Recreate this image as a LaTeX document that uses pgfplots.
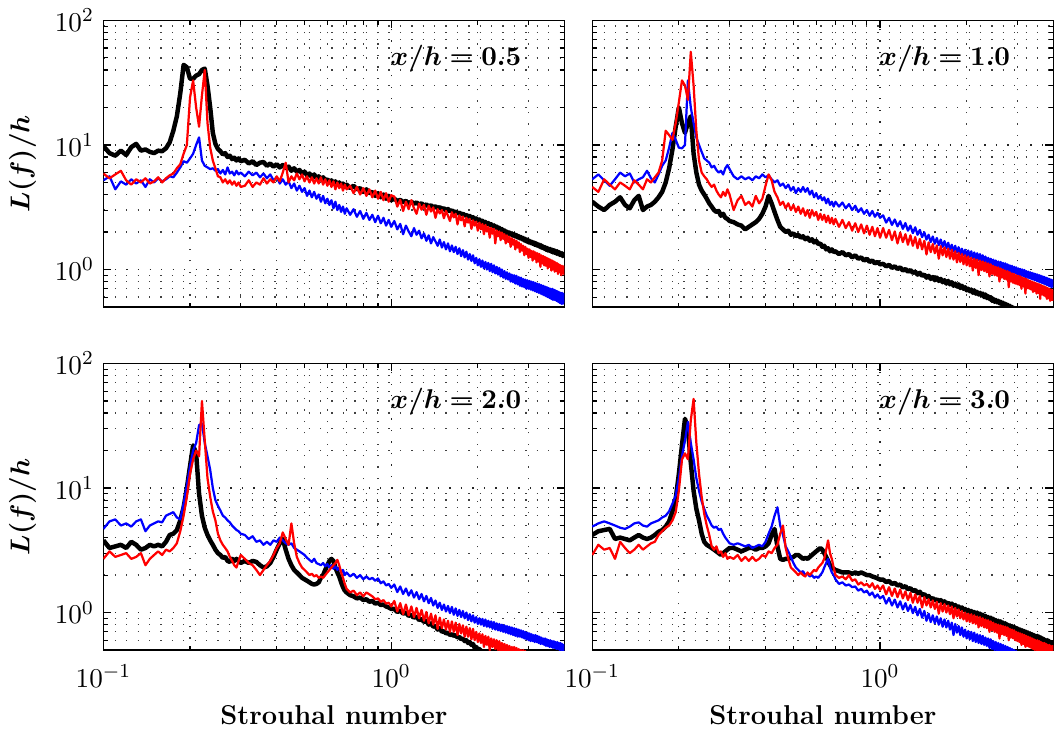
\documentclass[border=0pt]{standalone}
\usepackage{bm}
\usepackage{pgfplots}
\usepackage{pgfplotstable}
\pgfplotsset{compat=1.18}
\usepgfplotslibrary{groupplots}

\pgfplotstableread{
x k r b
0.100 9.8 5.9 5.2
0.105 8.6 5.4 5.6
0.110 8.2 5.8 4.4
0.115 9.0 6.2 5.1
0.120 8.3 5.2 4.8
0.125 9.6 4.8 5.3
0.130 10.2 5.3 4.9
0.135 9.0 5.0 5.2
0.140 9.2 5.4 4.6
0.145 8.8 4.9 5.3
0.150 8.6 5.1 5.0
0.155 9.0 5.5 5.4
0.160 8.9 5.0 5.1
0.165 9.4 5.4 5.3
0.170 10.5 5.7 5.6
0.175 13 5.9 5.5
0.180 17 6.5 6.0
0.185 26 7.0 6.6
0.190 44 8.5 7.4
0.195 42 10 7.2
0.200 34 24 7.8
0.205 34 33 8.5
0.210 36 20 10.0
0.215 37 14 11.5
0.220 40 25 7.5
0.225 41 40 6.8
0.230 30 15 6.6
0.235 20 9.5 6.4
0.240 12.5 7.5 6.5
0.245 10.2 6.5 6.2
0.250 9.3 5.6 6.4
0.255 8.9 5.5 5.9
0.260 8.4 5.0 6.3
0.265 8.6 5.3 5.8
0.270 8.0 4.9 6.6
0.275 8.2 5.2 5.9
0.280 7.7 4.8 6.1
0.285 7.9 5.1 5.7
0.290 7.5 4.7 6.2
0.295 7.8 5.0 5.8
0.300 7.4 4.6 6.0
0.31 7.6 4.7 5.6
0.32 7.1 5.2 6.1
0.33 7.4 4.6 5.7
0.34 6.9 5.0 6.0
0.35 7.2 4.8 5.5
0.36 7.3 5.4 5.9
0.37 6.8 4.9 5.4
0.38 7.1 5.3 5.8
0.39 6.7 5.0 5.2
0.40 7.0 5.6 5.5
0.41 6.6 5.1 4.9
0.42 6.9 6.0 5.3
0.43 6.5 7.2 4.8
0.44 6.7 5.0 5.1
0.45 6.2 5.6 4.5
0.46 6.5 5.2 4.9
0.47 6.1 5.9 4.3
0.48 6.3 5.3 4.7
0.49 5.9 5.8 4.2
0.50 6.1 5.1 4.5
0.51 5.7 5.6 3.9
0.52 5.9 5.0 4.3
0.53 5.5 5.5 3.8
0.54 5.8 4.9 4.2
0.55 5.4 5.4 3.7
0.56 5.6 4.9 4.0
0.57 5.3 5.5 3.5
0.58 5.5 4.8 3.9
0.59 5.2 5.3 3.4
0.60 5.3 4.7 3.7
0.61 5.0 5.2 3.3
0.62 5.2 4.6 3.6
0.63 4.9 5.1 3.1
0.64 5.1 4.4 3.5
0.65 4.8 5.0 3.0
0.66 5.0 4.5 3.3
0.67 4.7 4.9 2.9
0.68 4.9 4.3 3.2
0.69 4.6 4.8 2.8
0.70 4.8 4.4 3.1
0.72 4.5 4.7 2.75
0.74 4.7 4.1 3.05
0.76 4.4 4.6 2.65
0.78 4.5 4.0 2.95
0.80 4.2 4.5 2.55
0.82 4.4 3.9 2.85
0.84 4.1 4.4 2.5
0.86 4.2 3.8 2.75
0.88 3.9 4.3 2.4
0.90 4.1 3.7 2.7
0.92 3.8 4.2 2.35
0.94 4.0 3.6 2.6
0.96 3.7 4.1 2.25
0.98 3.9 3.5 2.5
1.000 3.6 3.95 2.2
1.025 3.70 3.85 2.45
1.050 3.55 3.20 2.10
1.075 3.62 3.62 2.32
1.100 3.48 2.95 1.92
1.125 3.55 3.50 2.25
1.150 3.40 3.05 2.02
1.175 3.50 3.60 1.85
1.200 3.38 3.10 2.15
1.225 3.45 2.80 1.90
1.250 3.32 3.38 2.05
1.275 3.40 3.02 1.78
1.300 3.25 3.30 1.95
1.325 3.33 2.75 1.70
1.350 3.20 3.25 1.88
1.375 3.28 2.92 1.62
1.400 3.15 3.15 1.82
1.425 3.22 2.60 1.68
1.450 3.10 3.05 1.55
1.475 3.17 2.82 1.74
1.500 3.04 3.00 1.50
1.525 3.11 2.58 1.66
1.550 2.98 2.95 1.45
1.575 3.06 2.70 1.62
1.600 2.93 2.45 1.40
1.625 2.99 2.88 1.56
1.650 2.87 2.62 1.38
1.675 2.93 2.80 1.52
1.700 2.81 2.30 1.33
1.725 2.87 2.72 1.48
1.750 2.76 2.48 1.28
1.775 2.81 2.66 1.43
1.800 2.70 2.22 1.25
1.825 2.75 2.60 1.39
1.850 2.64 2.38 1.20
1.875 2.69 2.55 1.33
1.900 2.58 2.12 1.17
1.925 2.63 2.48 1.30
1.950 2.52 2.25 1.12
1.975 2.57 2.42 1.24
2.000 2.46 2.05 1.08
2.025 2.52 2.38 1.21
2.050 2.41 2.10 1.05
2.075 2.46 2.32 1.18
2.100 2.36 1.92 1.02
2.125 2.41 2.28 1.15
2.150 2.31 2.02 1.00
2.175 2.36 2.20 1.13
2.200 2.27 1.80 0.97
2.225 2.31 2.16 1.11
2.250 2.22 1.94 0.95
2.275 2.26 2.12 1.08
2.300 2.17 1.62 0.93
2.325 2.21 2.06 1.05
2.350 2.12 1.85 0.91
2.375 2.16 2.02 1.03
2.400 2.07 1.72 0.88
2.425 2.11 1.98 1.00
2.450 2.02 1.76 0.86
2.475 2.06 1.92 0.97
2.500 1.97 1.62 0.84
2.525 2.01 1.88 0.95
2.550 1.94 1.66 0.83
2.575 1.98 1.83 0.93
2.600 1.91 1.52 0.80
2.625 1.95 1.78 0.91
2.650 1.87 1.58 0.79
2.675 1.92 1.74 0.90
2.700 1.84 1.45 0.77
2.725 1.89 1.70 0.89
2.750 1.81 1.50 0.76
2.775 1.85 1.65 0.87
2.800 1.78 1.38 0.74
2.825 1.82 1.60 0.86
2.850 1.75 1.42 0.73
2.875 1.79 1.55 0.84
2.900 1.71 1.30 0.72
2.925 1.76 1.52 0.83
2.950 1.68 1.33 0.70
2.975 1.73 1.47 0.82
3.000 1.65 1.24 0.70
3.025 1.70 1.45 0.81
3.050 1.63 1.26 0.69
3.075 1.67 1.41 0.80
3.100 1.61 1.18 0.68
3.125 1.65 1.40 0.79
3.150 1.58 1.22 0.67
3.175 1.63 1.37 0.78
3.200 1.56 1.14 0.66
3.225 1.60 1.35 0.77
3.250 1.54 1.16 0.65
3.275 1.58 1.33 0.76
3.300 1.51 1.05 0.64
3.325 1.56 1.30 0.75
3.350 1.49 1.12 0.63
3.375 1.53 1.28 0.74
3.400 1.47 1.08 0.62
3.425 1.51 1.26 0.73
3.450 1.44 1.07 0.61
3.475 1.49 1.24 0.72
3.500 1.42 1.02 0.60
3.525 1.47 1.22 0.71
3.550 1.41 1.05 0.59
3.575 1.46 1.20 0.70
3.600 1.39 0.98 0.58
3.625 1.44 1.18 0.70
3.650 1.37 1.00 0.57
3.675 1.43 1.16 0.69
3.700 1.36 0.96 0.57
3.725 1.41 1.14 0.68
3.750 1.34 0.97 0.56
3.775 1.40 1.12 0.67
3.800 1.33 0.92 0.55
3.825 1.38 1.10 0.66
3.850 1.31 0.95 0.54
3.875 1.36 1.08 0.65
3.900 1.30 0.90 0.53
3.925 1.35 1.07 0.65
3.950 1.28 0.93 0.53
3.975 1.33 1.06 0.64
4.000 1.28 0.90 0.54
}\tabA

\pgfplotstableread{
x k r b
0.100 3.5 4.6 5.3
0.105 3.2 4.2 5.8
0.110 3.0 5.3 5.2
0.115 3.3 4.8 4.7
0.120 3.5 4.4 5.3
0.125 3.8 5.0 6.0
0.130 3.3 4.7 5.6
0.135 3.1 4.4 5.9
0.140 3.6 5.2 5.0
0.145 3.9 4.8 5.3
0.150 3.0 4.4 5.5
0.155 3.2 5.3 6.2
0.160 3.3 5.0 5.4
0.165 3.5 5.5 5.0
0.170 3.8 6.0 5.8
0.175 4.2 7.5 6.8
0.180 5.0 13 7.5
0.185 6.5 12 9.5
0.190 9.2 11 12.5
0.195 14 15 11
0.200 20 22 9.5
0.205 15 33 9.4
0.210 12.5 30 10
0.215 15 23 33
0.220 17 56 20
0.225 8.5 30 15
0.230 6.0 13 11.5
0.235 4.8 7.5 10
0.240 4.3 6.0 8.8
0.245 4.0 5.6 7.8
0.250 3.7 5.3 7.5
0.255 3.4 4.9 7.2
0.260 3.2 4.6 6.6
0.265 3.0 4.8 6.8
0.270 2.9 4.3 6.3
0.275 2.95 4.0 6.0
0.280 2.7 3.8 6.2
0.285 2.8 4.2 5.8
0.290 2.6 3.9 6.5
0.295 2.55 4.4 6.9
0.300 2.45 4.0 6.4
0.31 2.4 3.0 5.6
0.32 2.3 3.6 5.3
0.33 2.25 3.9 5.6
0.34 2.1 3.3 5.3
0.35 2.2 3.5 5.5
0.36 2.3 3.2 5.2
0.37 2.4 3.9 5.6
0.38 2.55 3.4 5.4
0.39 2.8 3.7 5.8
0.40 3.2 4.7 5.5
0.41 3.9 5.8 5.7
0.42 3.4 5.2 5.3
0.43 2.9 4.2 5.0
0.44 2.5 3.8 5.2
0.45 2.2 3.3 4.7
0.46 2.1 3.5 4.9
0.47 2.0 3.1 4.5
0.48 2.05 3.4 4.8
0.49 1.9 3.0 4.3
0.50 1.95 3.3 4.6
0.51 1.85 2.9 4.1
0.52 1.9 3.2 4.5
0.53 1.8 2.8 4.2
0.54 1.85 3.1 4.6
0.55 1.75 2.7 4.2
0.56 1.8 3.0 4.5
0.57 1.7 2.6 4.0
0.58 1.75 3.0 4.3
0.59 1.65 2.7 3.8
0.60 1.7 2.9 4.1
0.61 1.6 2.5 3.7
0.62 1.62 2.8 3.9
0.63 1.52 2.5 3.6
0.64 1.55 2.75 3.8
0.65 1.45 2.4 3.4
0.66 1.48 2.7 3.7
0.67 1.4 2.35 3.3
0.68 1.45 2.6 3.5
0.69 1.38 2.3 3.2
0.70 1.4 2.55 3.5
0.72 1.33 2.2 3.2
0.74 1.38 2.5 3.45
0.76 1.3 2.15 3.1
0.78 1.33 2.4 3.35
0.80 1.25 2.05 3.0
0.82 1.3 2.35 3.25
0.84 1.22 2.0 2.9
0.86 1.25 2.3 3.1
0.88 1.18 1.95 2.8
0.90 1.22 2.25 3.0
0.92 1.15 1.9 2.7
0.94 1.18 2.2 2.95
0.96 1.12 1.85 2.65
0.98 1.15 2.15 2.85
1.000 1.1 1.8 2.6
1.025 1.11 2.15 2.72
1.050 1.06 1.80 2.38
1.075 1.09 2.08 2.60
1.100 1.03 1.72 2.28
1.125 1.06 2.02 2.52
1.150 1.01 1.62 2.22
1.175 1.04 1.98 2.44
1.200 0.98 1.66 2.12
1.225 1.01 1.92 2.36
1.250 0.96 1.58 2.05
1.275 0.99 1.88 2.25
1.300 0.94 1.55 1.96
1.325 0.96 1.82 2.18
1.350 0.91 1.48 1.90
1.375 0.94 1.76 2.08
1.400 0.89 1.45 1.82
1.425 0.91 1.70 1.99
1.450 0.86 1.32 1.74
1.475 0.89 1.65 1.90
1.500 0.84 1.38 1.66
1.525 0.87 1.60 1.84
1.550 0.82 1.35 1.61
1.575 0.86 1.56 1.79
1.600 0.81 1.22 1.57
1.625 0.84 1.54 1.74
1.650 0.79 1.30 1.52
1.675 0.82 1.50 1.69
1.700 0.77 1.26 1.48
1.725 0.81 1.47 1.64
1.750 0.76 1.22 1.44
1.775 0.79 1.44 1.58
1.800 0.74 1.20 1.40
1.825 0.77 1.40 1.55
1.850 0.73 1.14 1.37
1.875 0.76 1.36 1.51
1.900 0.71 1.15 1.33
1.925 0.74 1.33 1.47
1.950 0.70 1.10 1.30
1.975 0.72 1.30 1.44
2.000 0.68 1.08 1.28
2.025 0.70 1.27 1.42
2.050 0.67 1.06 1.26
2.075 0.69 1.24 1.40
2.100 0.65 0.98 1.23
2.125 0.68 1.22 1.37
2.150 0.64 1.03 1.21
2.175 0.66 1.20 1.35
2.200 0.63 0.90 1.19
2.225 0.65 1.18 1.33
2.250 0.62 0.99 1.17
2.275 0.64 1.16 1.30
2.300 0.60 0.97 1.14
2.325 0.63 1.14 1.27
2.350 0.59 0.95 1.12
2.375 0.61 1.12 1.24
2.400 0.58 0.88 1.10
2.425 0.60 1.10 1.22
2.450 0.56 0.92 1.08
2.475 0.58 1.07 1.20
2.500 0.55 0.90 1.06
2.525 0.57 1.05 1.18
2.550 0.545 0.89 1.04
2.575 0.56 1.04 1.16
2.600 0.535 0.80 1.03
2.625 0.55 1.02 1.15
2.650 0.525 0.86 1.01
2.675 0.54 1.00 1.13
2.700 0.515 0.84 1.00
2.725 0.53 0.98 1.12
2.750 0.51 0.83 0.98
2.775 0.52 0.97 1.10
2.800 0.50 0.72 0.97
2.825 0.51 0.95 1.08
2.850 0.49 0.80 0.95
2.875 0.50 0.93 1.07
2.900 0.48 0.78 0.94
2.925 0.49 0.92 1.05
2.950 0.47 0.77 0.93
2.975 0.48 0.90 1.04
3.000 0.47 0.76 0.91
3.025 0.47 0.89 1.02
3.050 0.46 0.75 0.90
3.075 0.46 0.88 1.01
3.100 0.45 0.70 0.89
3.125 0.45 0.86 1.00
3.150 0.45 0.73 0.88
3.175 0.44 0.85 0.99
3.200 0.44 0.64 0.87
3.225 0.44 0.84 0.97
3.250 0.43 0.71 0.86
3.275 0.43 0.82 0.96
3.300 0.43 0.70 0.85
3.325 0.42 0.81 0.95
3.350 0.42 0.69 0.84
3.375 0.42 0.80 0.94
3.400 0.41 0.66 0.83
3.425 0.41 0.79 0.93
3.450 0.41 0.67 0.82
3.475 0.41 0.78 0.92
3.500 0.40 0.64 0.81
3.525 0.40 0.77 0.91
3.550 0.40 0.65 0.80
3.575 0.40 0.76 0.90
3.600 0.39 0.58 0.79
3.625 0.39 0.75 0.89
3.650 0.39 0.63 0.78
3.675 0.39 0.74 0.88
3.700 0.39 0.62 0.77
3.725 0.38 0.73 0.87
3.750 0.38 0.61 0.76
3.775 0.38 0.72 0.86
3.800 0.38 0.58 0.75
3.825 0.38 0.71 0.85
3.850 0.38 0.59 0.74
3.875 0.38 0.70 0.84
3.900 0.37 0.56 0.73
3.925 0.37 0.69 0.83
3.950 0.37 0.57 0.72
3.975 0.37 0.68 0.82
4.000 0.37 0.56 0.72
}\tabB

\pgfplotstableread{
x k r b
0.100 3.8 2.7 4.7
0.105 3.3 3.1 5.4
0.110 3.4 2.8 5.6
0.115 3.5 2.9 5.0
0.120 3.3 3.0 5.2
0.125 3.7 2.7 4.9
0.130 3.5 2.8 5.4
0.135 3.2 3.0 5.6
0.140 3.3 2.4 4.5
0.145 3.5 2.7 5.0
0.150 3.4 2.9 5.2
0.155 3.5 3.1 5.4
0.160 3.4 2.9 5.3
0.165 3.7 3.2 6.0
0.170 4.2 3.1 6.2
0.175 4.3 3.3 6.4
0.180 4.6 3.6 5.8
0.185 5.5 4.5 5.6
0.190 7.0 6.0 7.5
0.195 10 8.5 10.5
0.200 15 13 15
0.205 22 17 20
0.210 19 20 23
0.215 9 18 32
0.220 6.0 50 33
0.225 4.8 24 23
0.230 4.2 12 18
0.235 3.8 8.5 14
0.240 3.5 6.5 10
0.245 3.2 5.5 8.0
0.250 3.0 4.3 7.2
0.255 2.9 3.8 6.6
0.260 2.75 3.5 6.0
0.265 2.8 3.3 5.8
0.270 2.6 3.1 5.5
0.275 2.55 2.8 5.3
0.280 2.7 2.6 5.0
0.285 2.6 2.4 4.8
0.290 2.7 2.3 4.6
0.295 2.6 2.6 4.5
0.300 2.5 2.9 4.3
0.31 2.6 2.7 4.2
0.32 2.5 2.5 3.9
0.33 2.6 2.4 4.1
0.34 2.55 2.2 3.7
0.35 2.4 2.0 3.8
0.36 2.3 2.2 3.5
0.37 2.35 2.4 3.7
0.38 2.5 2.6 3.5
0.39 2.8 2.9 3.8
0.40 3.2 3.3 3.7
0.41 3.6 3.6 4.0
0.42 3.9 4.4 3.8
0.43 3.2 3.9 3.6
0.44 2.7 3.5 3.5
0.45 2.4 5.2 3.6
0.46 2.2 3.6 3.3
0.47 2.1 2.8 3.2
0.48 2.0 2.5 3.1
0.49 1.9 2.3 3.0
0.50 1.85 2.2 2.9
0.51 1.8 2.1 2.75
0.52 1.75 2.0 2.65
0.53 1.7 2.05 2.55
0.54 1.68 1.95 2.7
0.55 1.7 2.0 2.5
0.56 1.75 1.9 2.45
0.57 1.9 1.95 2.4
0.58 2.0 1.9 2.5
0.59 2.2 2.0 2.35
0.60 2.4 2.1 2.45
0.61 2.6 2.2 2.3
0.62 2.7 2.3 2.4
0.63 2.6 2.4 2.25
0.64 2.3 2.5 2.35
0.65 2.1 2.65 2.2
0.66 1.95 2.4 2.3
0.67 1.75 2.1 2.1
0.68 1.6 1.9 2.2
0.69 1.5 1.7 2.0
0.70 1.45 1.55 2.1
0.72 1.38 1.45 1.95
0.74 1.35 1.5 2.05
0.76 1.3 1.38 1.9
0.78 1.32 1.45 2.0
0.80 1.26 1.35 1.85
0.82 1.28 1.45 1.95
0.84 1.22 1.4 1.85
0.86 1.24 1.35 1.9
0.88 1.18 1.28 1.8
0.90 1.2 1.3 1.88
0.92 1.15 1.22 1.72
0.94 1.16 1.26 1.78
0.96 1.12 1.18 1.65
0.98 1.1 1.2 1.7
1.000 1.07 1.12 1.58
1.025 1.07 1.24 1.68
1.050 1.01 1.02 1.46
1.075 1.04 1.19 1.62
1.100 0.98 0.97 1.41
1.125 1.00 1.16 1.56
1.150 0.94 0.95 1.37
1.175 0.96 1.12 1.51
1.200 0.91 0.92 1.32
1.225 0.93 1.09 1.46
1.250 0.87 0.90 1.28
1.275 0.89 1.05 1.41
1.300 0.84 0.86 1.23
1.325 0.86 1.01 1.36
1.350 0.80 0.82 1.19
1.375 0.82 0.98 1.31
1.400 0.77 0.80 1.14
1.425 0.78 0.95 1.25
1.450 0.73 0.74 1.09
1.475 0.75 0.91 1.20
1.500 0.70 0.75 1.05
1.525 0.71 0.88 1.16
1.550 0.68 0.73 1.02
1.575 0.69 0.86 1.13
1.600 0.66 0.70 0.99
1.625 0.67 0.85 1.11
1.650 0.65 0.70 0.96
1.675 0.66 0.83 1.08
1.700 0.63 0.66 0.94
1.725 0.64 0.81 1.05
1.750 0.61 0.68 0.92
1.775 0.62 0.79 1.03
1.800 0.59 0.64 0.90
1.825 0.60 0.77 1.00
1.850 0.57 0.64 0.87
1.875 0.58 0.75 0.97
1.900 0.55 0.61 0.85
1.925 0.56 0.74 0.95
1.950 0.52 0.60 0.83
1.975 0.53 0.70 0.92
2.000 0.50 0.58 0.81
2.025 0.51 0.68 0.90
2.050 0.49 0.57 0.80
2.075 0.49 0.67 0.89
2.100 0.47 0.53 0.78
2.125 0.48 0.65 0.88
2.150 0.46 0.55 0.77
2.175 0.46 0.64 0.86
2.200 0.45 0.50 0.76
2.225 0.45 0.62 0.85
2.250 0.44 0.53 0.74
2.275 0.44 0.61 0.84
2.300 0.43 0.51 0.73
2.325 0.43 0.60 0.82
2.350 0.42 0.50 0.72
2.375 0.42 0.59 0.81
2.400 0.41 0.46 0.71
2.425 0.41 0.57 0.80
2.450 0.40 0.48 0.70
2.475 0.40 0.56 0.79
2.500 0.39 0.47 0.69
2.525 0.39 0.55 0.78
2.550 0.38 0.46 0.68
2.575 0.38 0.54 0.77
2.600 0.38 0.45 0.67
2.625 0.37 0.53 0.76
2.650 0.37 0.46 0.66
2.675 0.37 0.53 0.75
2.700 0.36 0.44 0.65
2.725 0.36 0.52 0.74
2.750 0.36 0.44 0.64
2.775 0.35 0.51 0.73
2.800 0.35 0.41 0.64
2.825 0.35 0.50 0.72
2.850 0.35 0.43 0.63
2.875 0.34 0.50 0.71
2.900 0.34 0.42 0.62
2.925 0.34 0.49 0.70
2.950 0.34 0.41 0.61
2.975 0.33 0.48 0.69
3.000 0.33 0.41 0.60
3.025 0.33 0.47 0.68
3.050 0.33 0.40 0.59
3.075 0.33 0.46 0.67
3.100 0.32 0.39 0.59
3.125 0.32 0.46 0.66
3.150 0.32 0.39 0.58
3.175 0.32 0.45 0.66
3.200 0.32 0.38 0.58
3.225 0.31 0.44 0.65
3.250 0.31 0.38 0.57
3.275 0.31 0.44 0.64
3.300 0.31 0.37 0.56
3.325 0.31 0.43 0.63
3.350 0.31 0.37 0.56
3.375 0.30 0.42 0.62
3.400 0.30 0.36 0.55
3.425 0.30 0.42 0.62
3.450 0.30 0.36 0.54
3.475 0.30 0.41 0.61
3.500 0.30 0.35 0.54
3.525 0.30 0.41 0.60
3.550 0.30 0.35 0.53
3.575 0.29 0.40 0.60
3.600 0.29 0.34 0.53
3.625 0.29 0.40 0.59
3.650 0.29 0.34 0.52
3.675 0.29 0.39 0.59
3.700 0.29 0.33 0.52
3.725 0.29 0.39 0.58
3.750 0.29 0.33 0.51
3.775 0.28 0.38 0.58
3.800 0.28 0.33 0.51
3.825 0.28 0.38 0.57
3.850 0.28 0.32 0.50
3.875 0.28 0.37 0.57
3.900 0.28 0.32 0.50
3.925 0.28 0.37 0.56
3.950 0.28 0.32 0.49
3.975 0.28 0.36 0.55
4.000 0.28 0.31 0.49
}\tabC

\pgfplotstableread{
x k r b
0.100 4.2 2.9 4.9
0.105 4.5 3.5 5.2
0.110 4.6 3.2 5.4
0.115 4.7 3.3 5.2
0.120 3.9 2.7 5.0
0.125 4.0 3.7 4.8
0.130 3.9 3.3 4.7
0.135 3.8 3.0 4.9
0.140 4.0 3.2 5.2
0.145 4.2 3.5 5.3
0.150 4.0 3.2 5.0
0.155 3.9 3.4 4.9
0.160 4.0 3.6 5.2
0.165 4.2 3.7 5.35
0.170 4.45 4.2 5.5
0.175 4.6 4.5 5.8
0.180 4.9 4.8 6.0
0.185 5.4 5.0 6.5
0.190 6.5 5.5 7.5
0.195 8.2 6.4 8.7
0.200 13 9.5 12
0.205 22 17 18
0.210 36 19 24
0.215 30 17 34
0.220 16 35 23
0.225 9.5 52 17
0.230 6.8 23 12
0.235 5.5 13 9.5
0.240 4.3 8.5 7.8
0.245 3.7 6.2 6.8
0.250 3.5 5.0 6.0
0.255 3.4 4.2 5.5
0.260 3.3 3.4 5.0
0.265 3.2 3.2 4.8
0.270 3.1 3.4 4.9
0.275 3.0 3.0 4.6
0.280 2.9 3.1 4.7
0.285 3.0 2.8 4.3
0.290 3.1 3.0 4.0
0.295 3.2 2.7 3.8
0.300 3.3 2.8 3.6
0.31 3.3 2.7 3.5
0.32 3.2 2.9 3.6
0.33 3.1 2.6 3.5
0.34 3.2 2.8 3.4
0.35 3.3 2.6 3.5
0.36 3.3 2.8 3.3
0.37 3.2 2.6 3.4
0.38 3.3 2.7 3.5
0.39 3.3 2.9 3.4
0.40 3.4 2.8 3.7
0.41 3.6 3.1 4.3
0.42 4.2 3.0 4.9
0.43 4.7 3.3 6.0
0.44 3.4 3.5 7.0
0.45 2.7 4.3 5.0
0.46 2.65 5.0 4.2
0.47 2.7 3.3 3.4
0.48 2.7 2.7 3.1
0.49 2.75 2.3 2.8
0.50 2.8 2.2 2.5
0.51 2.9 2.1 2.3
0.52 2.9 2.0 2.2
0.53 2.8 2.1 2.1
0.54 2.7 2.0 2.15
0.55 2.75 1.95 2.0
0.56 2.7 2.1 2.05
0.57 2.8 2.0 1.95
0.58 2.9 2.1 2.0
0.59 3.0 2.2 1.9
0.60 3.1 2.15 1.95
0.61 3.2 2.3 1.9
0.62 3.3 2.4 2.0
0.63 3.2 2.5 2.1
0.64 3.0 2.7 2.3
0.65 2.8 3.2 2.5
0.66 2.6 3.8 2.7
0.67 2.4 3.0 2.3
0.68 2.3 2.7 2.1
0.69 2.25 2.3 2.0
0.70 2.2 2.0 1.85
0.72 2.15 1.9 1.7
0.74 2.1 1.95 1.75
0.76 2.1 1.85 1.65
0.78 2.1 2.0 1.68
0.80 2.05 1.8 1.6
0.82 2.1 1.85 1.62
0.84 2.05 1.68 1.5
0.86 2.1 1.75 1.55
0.88 2.05 1.65 1.45
0.90 2.0 1.7 1.5
0.92 2.0 1.6 1.38
0.94 1.95 1.72 1.45
0.96 1.92 1.55 1.32
0.98 1.88 1.65 1.4
1.000 1.84 1.52 1.3
1.025 1.84 1.65 1.36
1.050 1.76 1.40 1.18
1.075 1.79 1.60 1.31
1.100 1.70 1.36 1.14
1.125 1.73 1.56 1.27
1.150 1.65 1.33 1.10
1.175 1.68 1.53 1.23
1.200 1.59 1.30 1.06
1.225 1.63 1.48 1.19
1.250 1.54 1.26 1.03
1.275 1.57 1.44 1.15
1.300 1.49 1.20 0.99
1.325 1.52 1.40 1.11
1.350 1.43 1.20 0.95
1.375 1.47 1.36 1.07
1.400 1.38 1.10 0.91
1.425 1.41 1.33 1.03
1.450 1.33 1.14 0.86
1.475 1.36 1.28 0.98
1.500 1.28 1.10 0.84
1.525 1.31 1.25 0.95
1.550 1.25 1.07 0.82
1.575 1.28 1.22 0.93
1.600 1.23 0.98 0.80
1.625 1.26 1.19 0.90
1.650 1.20 1.02 0.77
1.675 1.23 1.17 0.88
1.700 1.18 1.00 0.76
1.725 1.20 1.14 0.86
1.750 1.15 0.97 0.73
1.775 1.18 1.12 0.83
1.800 1.12 0.90 0.66
1.825 1.15 1.09 0.81
1.850 1.10 0.93 0.69
1.875 1.12 1.06 0.78
1.900 1.07 0.90 0.66
1.925 1.10 1.03 0.76
1.950 1.05 0.88 0.64
1.975 1.07 1.00 0.73
2.000 1.02 0.85 0.62
2.025 1.05 0.98 0.71
2.050 1.00 0.84 0.61
2.075 1.03 0.97 0.70
2.100 0.98 0.82 0.59
2.125 1.01 0.95 0.69
2.150 0.97 0.81 0.58
2.175 1.00 0.93 0.67
2.200 0.95 0.76 0.57
2.225 0.98 0.92 0.66
2.250 0.93 0.78 0.56
2.275 0.96 0.90 0.65
2.300 0.91 0.76 0.55
2.325 0.94 0.88 0.63
2.350 0.89 0.75 0.54
2.375 0.92 0.87 0.62
2.400 0.88 0.70 0.52
2.425 0.91 0.85 0.61
2.450 0.86 0.72 0.51
2.475 0.89 0.83 0.59
2.500 0.84 0.70 0.50
2.525 0.87 0.81 0.58
2.550 0.83 0.69 0.49
2.575 0.86 0.80 0.57
2.600 0.81 0.62 0.48
2.625 0.85 0.79 0.56
2.650 0.80 0.67 0.48
2.675 0.83 0.78 0.55
2.700 0.79 0.66 0.47
2.725 0.82 0.77 0.54
2.750 0.77 0.65 0.46
2.775 0.80 0.76 0.53
2.800 0.76 0.60 0.46
2.825 0.79 0.74 0.52
2.850 0.74 0.63 0.45
2.875 0.78 0.73 0.51
2.900 0.73 0.62 0.45
2.925 0.77 0.72 0.50
2.950 0.72 0.60 0.44
2.975 0.75 0.70 0.49
3.000 0.71 0.59 0.43
3.025 0.74 0.69 0.48
3.050 0.70 0.58 0.43
3.075 0.73 0.68 0.47
3.100 0.69 0.55 0.42
3.125 0.72 0.67 0.47
3.150 0.68 0.56 0.42
3.175 0.71 0.66 0.46
3.200 0.67 0.53 0.41
3.225 0.70 0.65 0.46
3.250 0.66 0.54 0.41
3.275 0.69 0.64 0.45
3.300 0.65 0.53 0.40
3.325 0.68 0.63 0.45
3.350 0.64 0.52 0.40
3.375 0.67 0.62 0.44
3.400 0.63 0.51 0.39
3.425 0.66 0.61 0.44
3.450 0.62 0.50 0.39
3.475 0.65 0.60 0.43
3.500 0.61 0.50 0.38
3.525 0.65 0.60 0.43
3.550 0.60 0.49 0.38
3.575 0.64 0.59 0.42
3.600 0.60 0.46 0.38
3.625 0.63 0.58 0.42
3.650 0.59 0.48 0.37
3.675 0.62 0.57 0.41
3.700 0.58 0.47 0.37
3.725 0.61 0.57 0.41
3.750 0.57 0.47 0.36
3.775 0.60 0.56 0.40
3.800 0.56 0.45 0.36
3.825 0.60 0.55 0.40
3.850 0.56 0.46 0.35
3.875 0.59 0.55 0.39
3.900 0.55 0.45 0.35
3.925 0.58 0.54 0.39
3.950 0.55 0.45 0.35
3.975 0.57 0.54 0.39
4.000 0.55 0.45 0.34
}\tabD

\begin{document}
\fontsize{11}{13}\selectfont
\begin{tikzpicture}
\begin{groupplot}[
  group style={group name=G, group size=2 by 2, horizontal sep=11.2pt, vertical sep=22.8pt,
    xticklabels at=edge bottom, yticklabels at=edge left},
  width=186pt, height=115.6pt, scale only axis,
  xmode=log, ymode=log,
  xmin=0.1, xmax=4, ymin=0.5, ymax=100,
  xtick={0.1,1}, ytick={1,10,100},
  minor xtick={0.2,0.3,0.4,0.5,0.6,0.7,0.8,0.9,2,3,4},
  minor ytick={0.6,0.7,0.8,0.9,2,3,4,5,6,7,8,9,20,30,40,50,60,70,80,90},
  grid=both,
  major grid style={black!85, line width=0.55pt, dash pattern=on 0.55pt off 4.1pt},
  minor grid style={black!75, line width=0.5pt, dash pattern=on 0.5pt off 4.1pt},
  tick align=inside,
  major tick length=3.2pt, minor tick length=1.8pt,
  tick style={black, line width=0.45pt},
  axis line style={black, line width=0.5pt},
  xlabel style={font=\bfseries},
  xticklabel style={yshift=-2pt},
]
\nextgroupplot[ylabel={$\bm{L(f)/h}$}]
\addplot[black, line width=1.8pt, line join=round] table[x=x,y=k]{\tabA};
\addplot[blue, line width=0.9pt, line join=round] table[x=x,y=b]{\tabA};
\addplot[red, line width=0.9pt, line join=round] table[x=x,y=r]{\tabA};
\node[anchor=east] at (axis description cs:0.927,0.865) {$\bm{x/h=0.5}$};
\nextgroupplot[]
\addplot[black, line width=1.8pt, line join=round] table[x=x,y=k]{\tabB};
\addplot[blue, line width=0.9pt, line join=round] table[x=x,y=b]{\tabB};
\addplot[red, line width=0.9pt, line join=round] table[x=x,y=r]{\tabB};
\node[anchor=east] at (axis description cs:0.927,0.865) {$\bm{x/h=1.0}$};
\nextgroupplot[ylabel={$\bm{L(f)/h}$}, xlabel={Strouhal number}]
\addplot[black, line width=1.8pt, line join=round] table[x=x,y=k]{\tabC};
\addplot[blue, line width=0.9pt, line join=round] table[x=x,y=b]{\tabC};
\addplot[red, line width=0.9pt, line join=round] table[x=x,y=r]{\tabC};
\node[anchor=east] at (axis description cs:0.927,0.865) {$\bm{x/h=2.0}$};
\nextgroupplot[xlabel={Strouhal number}]
\addplot[black, line width=1.8pt, line join=round] table[x=x,y=k]{\tabD};
\addplot[blue, line width=0.9pt, line join=round] table[x=x,y=b]{\tabD};
\addplot[red, line width=0.9pt, line join=round] table[x=x,y=r]{\tabD};
\node[anchor=east] at (axis description cs:0.927,0.865) {$\bm{x/h=3.0}$};
\end{groupplot}
\end{tikzpicture}
\end{document}
